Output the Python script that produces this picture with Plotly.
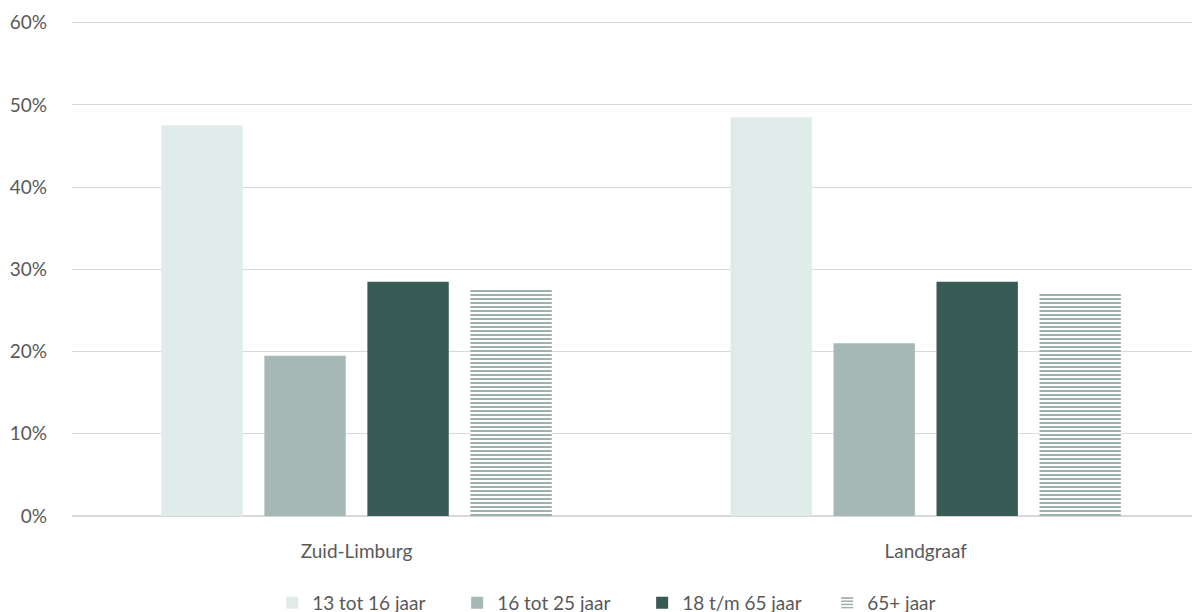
import plotly.graph_objects as go

categories = ["Zuid-Limburg", "Landgraaf"]
series_names = ["13 tot 16 jaar", "16 tot 25 jaar", "18 t/m 65 jaar", "65+ jaar"]
v_13_16 = [47.5, 48.5]
v_16_25 = [19.5, 21.0]
v_18_65 = [28.5, 28.5]
v_65plus = [27.5, 27.0]

colors = ["#dfecea", "#a5b8b5", "#385b55", "#3d6158"]

fig = go.Figure()
for name, vals, col in zip(series_names[:3], [v_13_16, v_16_25, v_18_65], colors[:3]):
    fig.add_trace(go.Bar(x=categories, y=[v / 100 for v in vals], name=name,
                         marker=dict(color=col, line=dict(width=0))))
fig.add_trace(go.Bar(x=categories, y=[v / 100 for v in v_65plus], name=series_names[3],
                     marker=dict(color="white", line=dict(width=0),
                                 pattern=dict(shape="-", fgcolor=colors[3], bgcolor="white",
                                              size=4, solidity=0.5, fillmode="overlay"))))

fig.update_layout(
    width=1192, height=614,
    margin=dict(l=64, r=0, t=13, b=106),
    paper_bgcolor="white", plot_bgcolor="white",
    barmode="group", bargap=0.276, bargroupgap=0.21,
    font=dict(family="Lato, Open Sans, sans-serif", size=19, color="#595959"),
    xaxis=dict(range=[-0.5, 1.482], showgrid=False, showline=False, ticks="",
               automargin=False, ticklabelstandoff=22,
               tickfont=dict(size=19, color="#595959")),
    yaxis=dict(range=[0, 0.602], dtick=0.1, tickformat=".0%", showgrid=True,
               gridcolor="#d9d9d9", gridwidth=1, zeroline=True, zerolinecolor="#d9d9d9",
               showline=False, ticks="", ticklabelstandoff=24, automargin=False,
               tickfont=dict(size=19, color="#595959")),
    legend=dict(orientation="h", xref="container", x=0.532, xanchor="center",
                yref="container", y=0.0, yanchor="bottom", entrywidth=140,
                font=dict(size=19, color="#595959"), itemwidth=30, traceorder="normal"),
    showlegend=True,
)
fig.write_html("out.html")
